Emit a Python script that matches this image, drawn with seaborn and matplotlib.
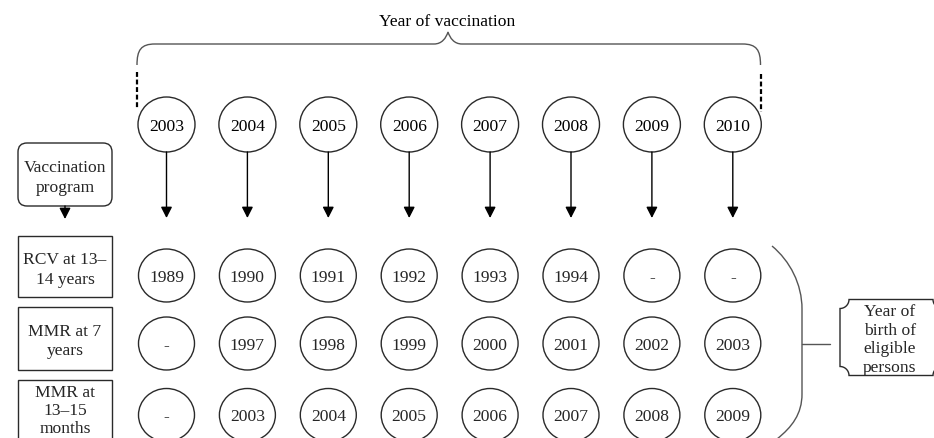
import numpy as np
import matplotlib
matplotlib.use("Agg")
import matplotlib.pyplot as plt
import seaborn as sns
from matplotlib.patches import Ellipse, FancyBboxPatch, Rectangle, FancyArrowPatch, PathPatch, Polygon
from matplotlib.path import Path

# ---- data ----
title = "Year of vaccination"
vacc_years = ["2003", "2004", "2005", "2006", "2007", "2008", "2009", "2010"]
program_header = "Vaccination\nprogram"
programs = ["RCV at 13–\n14 years", "MMR at 7\nyears", "MMR at\n13–15\nmonths"]
birth_rcv = ["1989", "1990", "1991", "1992", "1993", "1994", "-", "-"]
birth_mmr7 = ["-", "1997", "1998", "1999", "2000", "2001", "2002", "2003"]
birth_mmr13 = ["-", "2003", "2004", "2005", "2006", "2007", "2008", "2009"]
birth_rows = [birth_rcv, birth_mmr7, birth_mmr13]
side_label = "Year of\nbirth of\neligible\npersons"

sns.set_theme(style="white")
plt.rcParams['font.family'] = ['Liberation Serif', 'DejaVu Serif']

W, H = 934, 439
fig = plt.figure(figsize=(W / 100, H / 100), dpi=100)
ax = fig.add_axes([0, 0, 1, 1])
ax.set_xlim(0, W)
ax.set_ylim(H, 0)
ax.axis('off')

FS = 12.6
LS = 1.28
LC = "#2a2a2a"
LW = 1.0

x0, dx = 166.5, 80.9
xs = [x0 + i * dx for i in range(len(vacc_years))]

# title
ax.text(447, 22, title, ha='center', va='center', fontsize=FS, color='black')

# brace
bl, br, by, bbot, bpk = 137, 760.5, 45, 66, 448
r = 18
verts = [(bl, bbot), (bl, by + 6), (bl + 4, by), (bl + r, by),
         (bpk - 14, by), (bpk - 6, by), (bpk - 2, by - 6), (bpk, by - 12),
         (bpk + 2, by - 6), (bpk + 6, by), (bpk + 14, by),
         (br - r, by), (br - 4, by), (br, by + 6), (br, bbot)]
codes = [Path.MOVETO, Path.CURVE4, Path.CURVE4, Path.CURVE4,
         Path.LINETO, Path.CURVE4, Path.CURVE4, Path.CURVE4,
         Path.CURVE4, Path.CURVE4, Path.CURVE4,
         Path.LINETO, Path.CURVE4, Path.CURVE4, Path.CURVE4]
ax.add_patch(PathPatch(Path(verts, codes), fill=False, ec="#555555", lw=LW))
ax.plot([bl, bl], [73, 110], ls=(0, (2.2, 1.2)), color='black', lw=1.6)
ax.plot([br, br], [75, 113], ls=(0, (2.2, 1.2)), color='black', lw=1.6)

# top circles and arrows
for x, yr in zip(xs, vacc_years):
    ax.add_patch(Ellipse((x, 125.5), 57, 55, fc='white', ec=LC, lw=LW))
    ax.text(x, 127.5, yr, ha='center', va='center', fontsize=FS, color='black')
    ax.add_patch(FancyArrowPatch((x, 153), (x, 219), arrowstyle='-|>,head_length=0.55,head_width=0.28',
                                 mutation_scale=12, color='black', lw=LW, shrinkA=0, shrinkB=0))

# vaccination program box
ax.add_patch(FancyBboxPatch((18, 144), 94, 63, boxstyle="round,pad=0,rounding_size=9",
                            fc='white', ec=LC, lw=LW))
ax.text(65, 178, program_header, ha='center', va='center', fontsize=FS, linespacing=LS)
ax.add_patch(FancyArrowPatch((65, 207), (65, 220), arrowstyle='-|>,head_length=0.55,head_width=0.28',
                             mutation_scale=12, color='black', lw=LW, shrinkA=0, shrinkB=0))

# program boxes and birth-year circles
row_boxes = [(237, 61), (308, 63), (381, 70)]
row_text_y = [270, 341.5, 411]
row_ls = [LS, LS, 1.2]
row_cy = [276.5, 344.5, 416]
for (by0, bh), label, ty, ls, cy, row in zip(row_boxes, programs, row_text_y, row_ls, row_cy, birth_rows):
    ax.add_patch(Rectangle((18, by0), 94, bh, fc='white', ec=LC, lw=LW))
    ax.text(65, ty, label, ha='center', va='center', fontsize=FS, linespacing=ls)
    for x, v in zip(xs, row):
        ax.add_patch(Ellipse((x, cy), 56, 53, fc='white', ec=LC, lw=LW))
        ax.text(x, cy + 1.5, v, ha='center', va='center', fontsize=FS)

# big right parenthesis
pv = [(772, 247), (790, 262), (802, 285), (802, 310),
      (802, 395), (802, 415), (792, 428), (777, 440)]
pc = [Path.MOVETO, Path.CURVE4, Path.CURVE4, Path.CURVE4,
      Path.LINETO, Path.CURVE4, Path.CURVE4, Path.CURVE4]
ax.add_patch(PathPatch(Path(pv, pc), fill=False, ec="#555555", lw=LW))
ax.plot([802, 830], [345, 345], color="#555555", lw=LW)

# plaque-shaped label box
px0, px1, py0, py1, rr = 840, 942, 300.5, 376.5, 9
def corner(cx, cy, a0, a1):
    t = np.linspace(a0, a1, 12)
    return list(zip(cx + rr * np.cos(t), cy + rr * np.sin(t)))
pts = []
pts += corner(px0, py0, np.pi / 2, 0)
pts += corner(px1, py0, np.pi, np.pi / 2)
pts += corner(px1, py1, 3 * np.pi / 2, np.pi)
pts += corner(px0, py1, 0, -np.pi / 2)
ax.add_patch(Polygon(pts, closed=True, fc='white', ec=LC, lw=LW))
ax.text(890, 340, side_label, ha='center', va='center', fontsize=FS, linespacing=1.22)

fig.savefig("out.png", dpi=100)
